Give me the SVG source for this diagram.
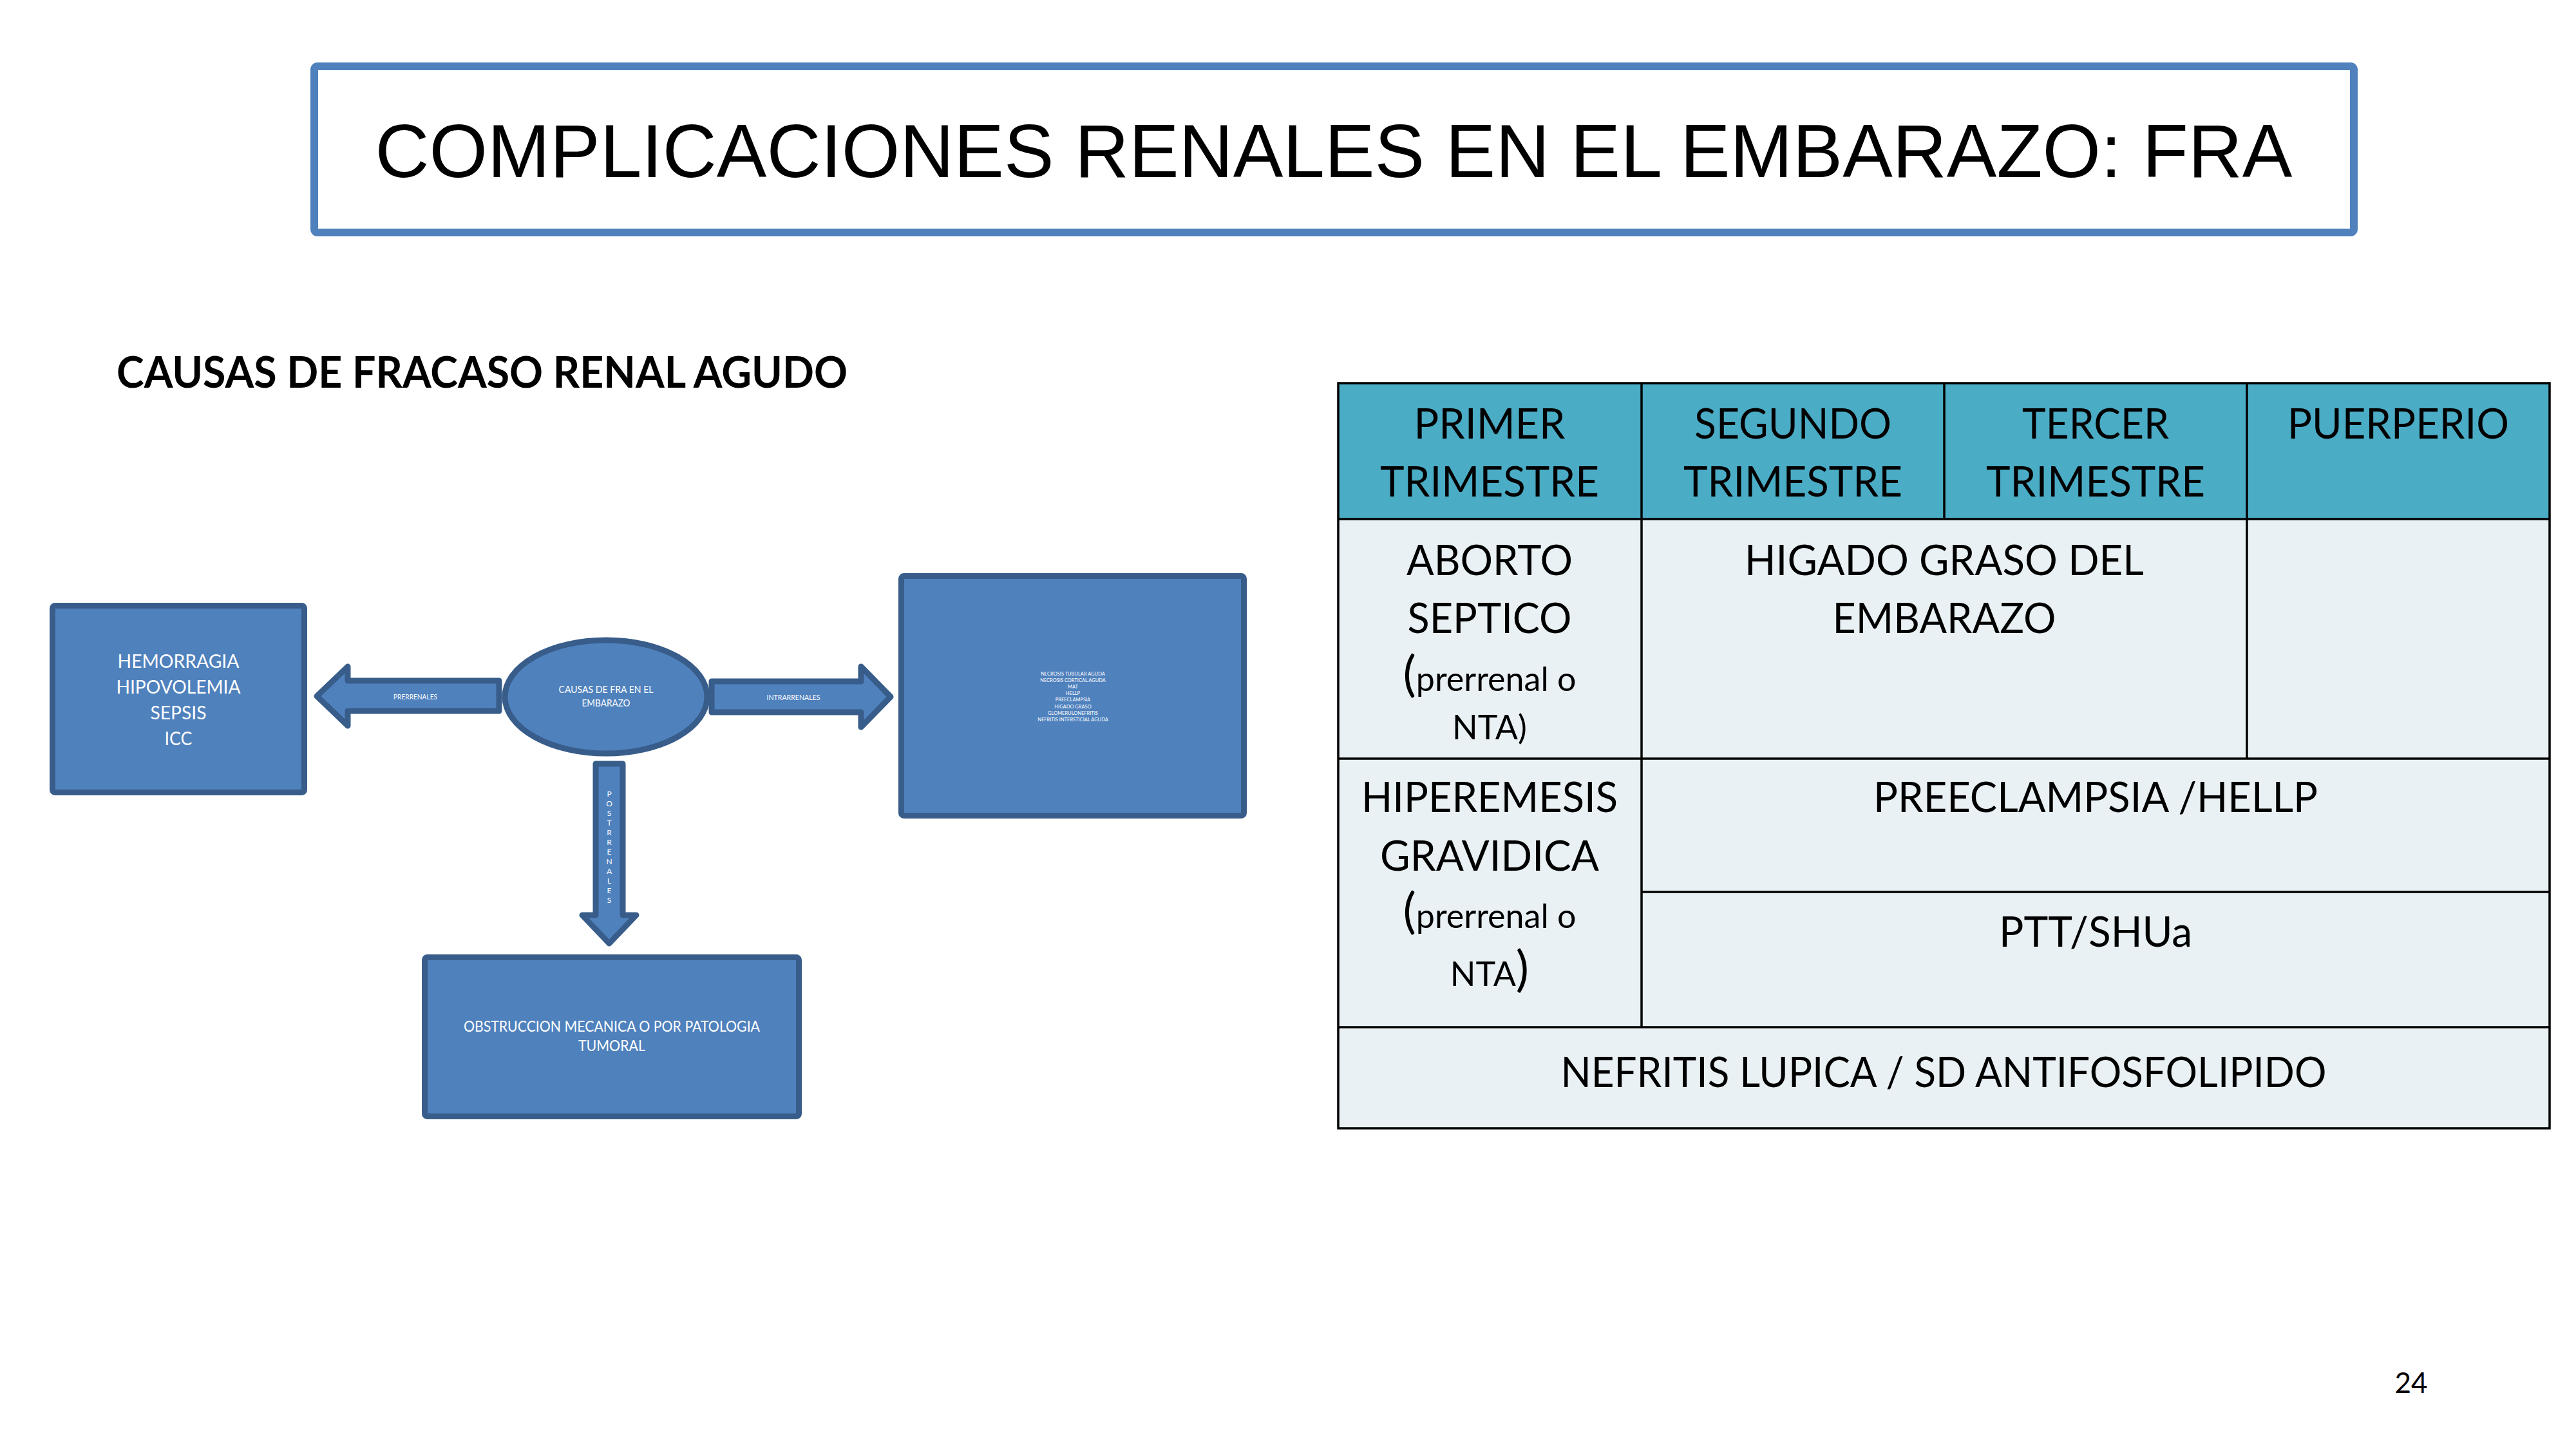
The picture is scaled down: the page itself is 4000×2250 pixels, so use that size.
<svg xmlns="http://www.w3.org/2000/svg" width="4000" height="2250" viewBox="0 0 4000 2250">
<style>
.shape{fill:#4F81BD;stroke:#385D8A;stroke-width:9;stroke-linejoin:round}
.wt{fill:#FFFFFF;font-family:Lato,"Open Sans","Liberation Sans",sans-serif;text-anchor:middle}
.tc{fill:#000000;font-family:Lato,"Open Sans","Liberation Sans",sans-serif;text-anchor:middle;font-size:66px}
.sm{font-size:52px}
.big{font-size:76px}
.grid{stroke:#000000;stroke-width:3.5;fill:none}
</style>
<rect width="4000" height="2250" fill="#FFFFFF"/>
<g id="title">
<rect x="488" y="103" width="3167" height="258" rx="5" fill="#FFFFFF" stroke="#4F81BD" stroke-width="12"/>
<text x="2071" y="275" font-family="Liberation Sans,Arial,sans-serif" font-size="116" text-anchor="middle" fill="#000000" textLength="2977" lengthAdjust="spacingAndGlyphs">COMPLICACIONES RENALES EN EL EMBARAZO: FRA</text>
</g>
<g id="subtitle">
<text x="181" y="602" font-family="Lato,'Open Sans','Liberation Sans',sans-serif" font-weight="bold" font-size="67" fill="#000000" textLength="1135" lengthAdjust="spacingAndGlyphs">CAUSAS DE FRACASO RENAL AGUDO</text>
</g>
<g id="table">
<rect x="2078" y="595" width="1881" height="211" fill="#4BACC6"/>
<rect x="2078" y="806" width="1881" height="946" fill="#E9F1F4"/>
<rect class="grid" x="2078" y="595" width="1881" height="1157"/>
<line class="grid" x1="2078" y1="806" x2="3959" y2="806"/>
<line class="grid" x1="2078" y1="1178" x2="3959" y2="1178"/>
<line class="grid" x1="2549" y1="1385" x2="3959" y2="1385"/>
<line class="grid" x1="2078" y1="1595" x2="3959" y2="1595"/>
<line class="grid" x1="2549" y1="595" x2="2549" y2="1595"/>
<line class="grid" x1="3019" y1="595" x2="3019" y2="806"/>
<line class="grid" x1="3489" y1="595" x2="3489" y2="1178"/>
<g id="h1"><text class="tc" x="2313" y="681" textLength="235" lengthAdjust="spacingAndGlyphs">PRIMER</text><text class="tc" x="2313" y="771" textLength="340" lengthAdjust="spacingAndGlyphs">TRIMESTRE</text></g>
<g id="h2"><text class="tc" x="2784" y="681" textLength="306" lengthAdjust="spacingAndGlyphs">SEGUNDO</text><text class="tc" x="2784" y="771" textLength="340" lengthAdjust="spacingAndGlyphs">TRIMESTRE</text></g>
<g id="h3"><text class="tc" x="3254" y="681" textLength="228" lengthAdjust="spacingAndGlyphs">TERCER</text><text class="tc" x="3254" y="771" textLength="340" lengthAdjust="spacingAndGlyphs">TRIMESTRE</text></g>
<g id="h4"><text class="tc" x="3724" y="681" textLength="344" lengthAdjust="spacingAndGlyphs">PUERPERIO</text></g>
<g id="c-aborto">
<text class="tc" x="2313" y="893" textLength="258" lengthAdjust="spacingAndGlyphs">ABORTO</text>
<text class="tc" x="2313" y="983" textLength="255" lengthAdjust="spacingAndGlyphs">SEPTICO</text>
<text class="tc" x="2313" y="1073"><tspan class="big">(</tspan><tspan class="sm">prerrenal o</tspan></text>
<text class="tc sm" x="2313" y="1148">NTA)</text>
</g>
<g id="c-higado">
<text class="tc" x="3019" y="893" textLength="620" lengthAdjust="spacingAndGlyphs">HIGADO GRASO DEL</text>
<text class="tc" x="3019" y="983" textLength="347" lengthAdjust="spacingAndGlyphs">EMBARAZO</text>
</g>
<g id="c-hiperemesis">
<text class="tc" x="2313" y="1261" textLength="398" lengthAdjust="spacingAndGlyphs">HIPEREMESIS</text>
<text class="tc" x="2313" y="1352" textLength="340" lengthAdjust="spacingAndGlyphs">GRAVIDICA</text>
<text class="tc" x="2313" y="1441"><tspan class="big">(</tspan><tspan class="sm">prerrenal o</tspan></text>
<text class="tc" x="2313" y="1531"><tspan class="sm">NTA</tspan><tspan class="big">)</tspan></text>
</g>
<g id="c-preeclampsia"><text class="tc" x="3254" y="1261" textLength="690" lengthAdjust="spacingAndGlyphs">PREECLAMPSIA /HELLP</text></g>
<g id="c-ptt"><text class="tc" x="3254" y="1470" textLength="300" lengthAdjust="spacingAndGlyphs">PTT/SHUa</text></g>
<g id="c-nefritis"><text class="tc" x="3018" y="1688" textLength="1189" lengthAdjust="spacingAndGlyphs">NEFRITIS LUPICA / SD ANTIFOSFOLIPIDO</text></g>
</g>
<g id="connectors">
<g id="arrow-prerrenales">
<polygon class="shape" stroke-width="8" points="492,1081 540,1035 540,1057 775,1057 775,1104 540,1104 540,1127"/>
<text class="wt" x="645" y="1086" font-size="11.5" textLength="68" lengthAdjust="spacingAndGlyphs">PRERRENALES</text>
</g>
<g id="arrow-intrarrenales">
<polygon class="shape" stroke-width="8" points="1105,1058 1337,1058 1337,1035 1383,1082 1337,1129 1337,1106 1105,1106"/>
<text class="wt" x="1232" y="1087" font-size="11.5" textLength="83" lengthAdjust="spacingAndGlyphs">INTRARRENALES</text>
</g>
<g id="arrow-postrrenales">
<polygon class="shape" stroke-width="8" points="925,1186 967,1186 967,1421 988,1421 946,1465 904,1421 925,1421"/>
<g class="wt" font-size="12">
<text x="946" y="1237">P</text><text x="946" y="1252">O</text><text x="946" y="1267">S</text><text x="946" y="1282">T</text><text x="946" y="1297">R</text><text x="946" y="1312">R</text><text x="946" y="1327">E</text><text x="946" y="1342">N</text><text x="946" y="1357">A</text><text x="946" y="1372">L</text><text x="946" y="1387">E</text><text x="946" y="1402">S</text>
</g>
</g>
</g>
<g id="node-prerrenal">
<rect class="shape" x="81.5" y="940.5" width="391" height="290" rx="4"/>
<text class="wt" x="277" y="1037" font-size="29" textLength="189" lengthAdjust="spacingAndGlyphs">HEMORRAGIA</text>
<text class="wt" x="277" y="1077" font-size="29" textLength="193" lengthAdjust="spacingAndGlyphs">HIPOVOLEMIA</text>
<text class="wt" x="277" y="1117" font-size="29" textLength="87" lengthAdjust="spacingAndGlyphs">SEPSIS</text>
<text class="wt" x="277" y="1157" font-size="29" textLength="43" lengthAdjust="spacingAndGlyphs">ICC</text>
</g>
<g id="node-causas">
<ellipse class="shape" cx="941" cy="1082" rx="157" ry="88"/>
<text class="wt" x="941" y="1076" font-size="15" textLength="147" lengthAdjust="spacingAndGlyphs">CAUSAS DE FRA EN EL</text>
<text class="wt" x="941" y="1097" font-size="15" textLength="75" lengthAdjust="spacingAndGlyphs">EMBARAZO</text>
</g>
<g id="node-intrarrenal">
<rect class="shape" x="1399.5" y="894.5" width="532" height="372" rx="4"/>
<g class="wt" font-size="7.5">
<text x="1666" y="1049">NECROSIS TUBULAR AGUDA</text>
<text x="1666" y="1059">NECROSIS CORTICAL AGUDA</text>
<text x="1666" y="1069">MAT</text>
<text x="1666" y="1079">HELLP</text>
<text x="1666" y="1089">PREECLAMPSIA</text>
<text x="1666" y="1100">HIGADO GRASO</text>
<text x="1666" y="1110">GLOMERULONEFRITIS</text>
<text x="1666" y="1120">NEFRITIS INTERSTICIAL AGUDA</text>
</g>
</g>
<g id="node-postrrenal">
<rect class="shape" x="659.5" y="1486.5" width="581" height="247" rx="4"/>
<text class="wt" x="950" y="1602" font-size="22.5" textLength="460" lengthAdjust="spacingAndGlyphs">OBSTRUCCION MECANICA O POR PATOLOGIA</text>
<text class="wt" x="950" y="1632" font-size="22.5" textLength="104" lengthAdjust="spacingAndGlyphs">TUMORAL</text>
</g>
<g id="page-number">
<text x="3744" y="2163" font-family="Lato,'Open Sans','Liberation Sans',sans-serif" font-size="44" text-anchor="middle" fill="#000000">24</text>
</g>
</svg>
